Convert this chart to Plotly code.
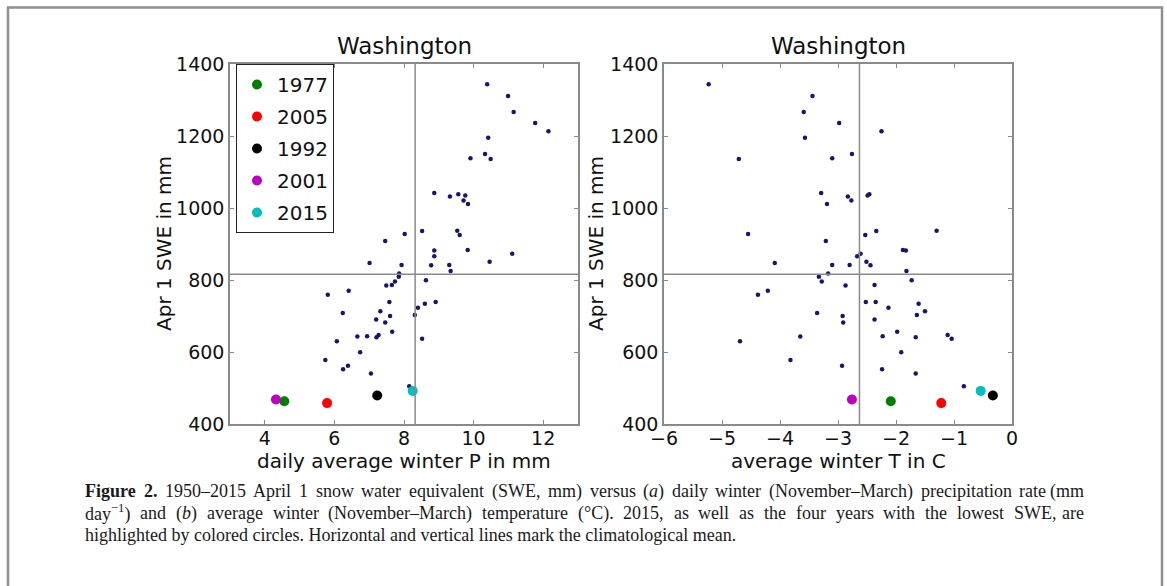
import plotly.graph_objects as go

# ---- data ----
swe = [1344, 1311, 1267, 1236, 1213, 1195, 1150, 1138, 1136, 1042,
       1038, 1035, 1032, 1021, 1011, 937, 936, 928, 925, 908,
       883, 882, 873, 866, 851, 847, 842, 842, 841, 825,
       818, 809, 799, 796, 786, 785, 770, 759, 739, 739,
       734, 723, 713, 708, 703, 700, 690, 682, 656, 647,
       644, 643, 641, 637, 630, 599, 578, 562, 552, 540,
       505]
precip = [10.39, 10.99, 11.15, 11.77, 12.15, 10.42, 10.33, 9.91, 10.49, 8.87,
          9.56, 9.76, 9.32, 9.71, 9.84, 9.53, 8.52, 8.02, 9.60, 7.46,
          9.83, 8.87, 11.11, 8.87, 10.46, 7.01, 7.93, 9.30, 8.78, 9.34,
          7.86, 7.85, 8.63, 7.74, 7.65, 7.49, 6.41, 5.81, 8.91, 7.58,
          8.60, 8.40, 7.32, 6.24, 8.31, 7.60, 7.20, 7.46, 7.66, 7.27,
          6.94, 6.66, 7.21, 8.52, 6.07, 6.74, 5.74, 6.39, 6.25, 7.05,
          8.15]
temp = [-5.23, -3.44, -3.59, -2.98, -2.25, -3.57, -2.76, -3.10, -4.71, -3.29,
        -2.46, -2.49, -2.83, -2.77, -3.19, -1.30, -2.34, -4.55, -2.53, -3.21,
        -1.88, -1.83, -2.61, -2.67, -2.51, -4.09, -3.10, -2.80, -2.44, -1.82,
        -3.17, -3.33, -1.73, -3.28, -2.37, -2.87, -4.21, -4.38, -2.52, -2.35,
        -1.61, -2.13, -1.50, -3.36, -1.64, -2.92, -2.37, -2.91, -1.98, -1.11,
        -2.23, -3.65, -1.66, -1.04, -4.69, -1.91, -3.82, -2.93, -2.24, -1.66,
        -0.83]

hl_years = ["1977", "2005", "1992", "2001", "2015"]
hl_swe = [463, 458, 479, 468, 492]
hl_precip = [4.56, 5.79, 7.23, 4.32, 8.25]
hl_temp = [-2.09, -1.22, -0.33, -2.76, -0.54]
hl_colors = ["#008000", "#ff0000", "#000000", "#bf00bf", "#00bfbf"]

mean_swe = 816
mean_precip = 8.32
mean_temp = -2.63

x1_ticks = [4, 6, 8, 10, 12]
x2_ticks = [-6, -5, -4, -3, -2, -1, 0]
y_ticks = [400, 600, 800, 1000, 1200, 1400]

panel_title = "Washington"
x1_label = "daily average winter P in mm"
x2_label = "average winter T in C"
y_label = "Apr 1 SWE in mm"

# caption lines: tokens of (text, style); style r=regular, b=bold, i=italic, s=superscript
caption_lines = [
    [[("Figure", "b")], [("2.", "b")], [("1950–2015", "r")], [("April", "r")], [("1", "r")],
     [("snow", "r")], [("water", "r")], [("equivalent", "r")], [("(SWE,", "r")], [("mm)", "r")],
     [("versus", "r")], [("(", "r"), ("a", "i"), (")", "r")], [("daily", "r")], [("winter", "r")],
     [("(November–March)", "r")], [("precipitation", "r")], [("rate", "r")], [("(mm", "r")]],
    [[("day", "r"), ("−1", "s"), (")", "r")], [("and", "r")], [("(", "r"), ("b", "i"), (")", "r")],
     [("average", "r")], [("winter", "r")], [("(November–March)", "r")], [("temperature", "r")],
     [("(°C).", "r")], [("2015,", "r")], [("as", "r")], [("well", "r")], [("as", "r")], [("the", "r")],
     [("four", "r")], [("years", "r")], [("with", "r")], [("the", "r")], [("lowest", "r")],
     [("SWE,", "r")], [("are", "r")]],
    [[("highlighted by colored circles. Horizontal and vertical lines mark the climatological mean.", "r")]],
]

W, H = 1167, 586
def px(x):
    return x / W
def py(y):
    return 1 - y / H

# Times-compatible (Liberation Serif) advance widths, per 1000 em
TW = {" ": 250, "a": 444, "b": 500, "c": 444, "d": 500, "e": 444, "f": 333, "g": 500, "h": 500,
      "i": 278, "j": 278, "k": 500, "l": 278, "m": 778, "n": 500, "o": 500, "p": 500, "q": 500,
      "r": 333, "s": 389, "t": 278, "u": 500, "v": 500, "w": 722, "x": 500, "y": 500, "z": 444,
      "(": 333, ")": 333, ",": 250, ".": 250, "–": 500, "−": 564, "°": 400,
      "A": 722, "C": 667, "E": 611, "F": 556, "H": 722, "M": 889, "N": 722, "S": 556, "W": 944}
TWB = {"F": 611, "u": 556, "r": 444}
for ch in "0123456789":
    TW[ch] = 500

def seg_width(text, style, size):
    w = 0
    for ch in text:
        if style == "b":
            w += TWB.get(ch, TW.get(ch, 500))
        elif style == "i":
            w += 500
        else:
            w += TW.get(ch, 500)
    k = 0.7 if style == "s" else 1.0
    return w / 1000 * size * k

def seg_html(text, style):
    return {"b": "<b>%s</b>", "i": "<i>%s</i>", "s": "<sup>%s</sup>"}.get(style, "%s") % text

fig = go.Figure()

dot_color = "#16166a"
fig.add_trace(go.Scatter(x=precip, y=swe, mode="markers", xaxis="x", yaxis="y",
                         marker=dict(size=4.5, color=dot_color), showlegend=False))
fig.add_trace(go.Scatter(x=temp, y=swe, mode="markers", xaxis="x2", yaxis="y2",
                         marker=dict(size=4.5, color=dot_color), showlegend=False))
for i, yr in enumerate(hl_years):
    fig.add_trace(go.Scatter(x=[hl_precip[i]], y=[hl_swe[i]], mode="markers",
                             xaxis="x", yaxis="y", name=yr, legendgroup=yr,
                             marker=dict(size=10, color=hl_colors[i])))
    fig.add_trace(go.Scatter(x=[hl_temp[i]], y=[hl_swe[i]], mode="markers",
                             xaxis="x2", yaxis="y2", name=yr, legendgroup=yr,
                             showlegend=False,
                             marker=dict(size=10, color=hl_colors[i])))

axis_common = dict(showline=True, linecolor="#8a8a8a", linewidth=1.5, mirror="allticks",
                   ticks="inside", ticklen=4, tickcolor="#8a8a8a", tickwidth=1,
                   showgrid=False, zeroline=False, automargin=False,
                   tickfont=dict(family="DejaVu Sans", size=19, color="#111111"))

fig.update_layout(
    width=W, height=H,
    margin=dict(l=0, r=0, t=0, b=0, pad=0, autoexpand=False),
    paper_bgcolor="white", plot_bgcolor="white",
    font=dict(family="DejaVu Sans", color="#111111"),
    xaxis=dict(domain=[px(230), px(578)], range=[3, 13], tickvals=x1_ticks,
               ticklabelstandoff=-4, **axis_common),
    yaxis=dict(domain=[py(424), py(64)], range=[400, 1400], tickvals=y_ticks, **axis_common),
    xaxis2=dict(domain=[px(664), px(1012)], range=[-6, 0], tickvals=x2_ticks,
                anchor="y2", ticklabelstandoff=-4, **axis_common),
    yaxis2=dict(domain=[py(424), py(64)], range=[400, 1400], tickvals=y_ticks,
                anchor="x2", **axis_common),
    legend=dict(x=px(236), y=py(64), xanchor="left", yanchor="top",
                bordercolor="#222222", borderwidth=1, bgcolor="white",
                font=dict(family="DejaVu Sans", size=20, color="#111111"),
                traceorder="grouped", tracegroupgap=3, itemwidth=30),
    showlegend=True,
)

# mean lines
for xa, ya, mx in (("x", "y", mean_precip), ("x2", "y2", mean_temp)):
    fig.add_shape(type="line", xref=xa + " domain", yref=ya, x0=0, x1=1, y0=mean_swe, y1=mean_swe,
                  line=dict(color="#8a8a8a", width=1.5))
    fig.add_shape(type="line", xref=xa, yref=ya + " domain", x0=mx, x1=mx, y0=0, y1=1,
                  line=dict(color="#8a8a8a", width=1.5))

# outer frame
fig.add_shape(type="rect", xref="paper", yref="paper", x0=px(8), x1=px(1162), y0=-0.1, y1=py(7.5),
              line=dict(color="#8f8f8f", width=2.5), fillcolor="rgba(0,0,0,0)", layer="above")

# titles and axis labels
txt_font = dict(family="DejaVu Sans", size=20, color="#111111")
for cx in (404, 838):
    fig.add_annotation(text=panel_title, x=px(cx), y=py(46), xref="paper", yref="paper",
                       showarrow=False, xanchor="center", yanchor="middle",
                       font=dict(family="DejaVu Sans", size=23, color="#111111"))
fig.add_annotation(text=x1_label, x=px(404), y=py(461), xref="paper", yref="paper",
                   showarrow=False, xanchor="center", yanchor="middle", font=txt_font)
fig.add_annotation(text=x2_label, x=px(838), y=py(461), xref="paper", yref="paper",
                   showarrow=False, xanchor="center", yanchor="middle", font=txt_font)
for cx in (164, 596):
    fig.add_annotation(text=y_label, x=px(cx), y=py(244), xref="paper", yref="paper",
                       showarrow=False, xanchor="center", yanchor="middle", textangle=-90,
                       font=txt_font)

# caption, justified between x=83 and x=1086
cap_size = 18
cap_font = dict(family="Liberation Serif", size=cap_size, color="#1a1a1a")
cap_left, cap_right = 83, 1086
cap_rows = [491, 513, 535]
for row, tokens in zip(cap_rows, caption_lines):
    widths = [sum(seg_width(t, s, cap_size) for t, s in tok) for tok in tokens]
    htmls = ["".join(seg_html(t, s) for t, s in tok) for tok in tokens]
    if len(tokens) == 1:
        fig.add_annotation(text=htmls[0], x=px(cap_left), y=py(row), xref="paper", yref="paper",
                           showarrow=False, xanchor="left", yanchor="middle", font=cap_font)
        continue
    gap = (cap_right - cap_left - sum(widths)) / (len(tokens) - 1)
    xpos = cap_left
    for k, (h, w) in enumerate(zip(htmls, widths)):
        last = k == len(tokens) - 1
        fig.add_annotation(text=h, x=px(cap_right if last else xpos), y=py(row), xref="paper", yref="paper",
                           showarrow=False, xanchor="right" if last else "left", yanchor="middle",
                           font=cap_font)
        xpos += w + gap

fig.write_html("out.html", config={"displayModeBar": False},
               post_script="document.body.style.margin='0';")
